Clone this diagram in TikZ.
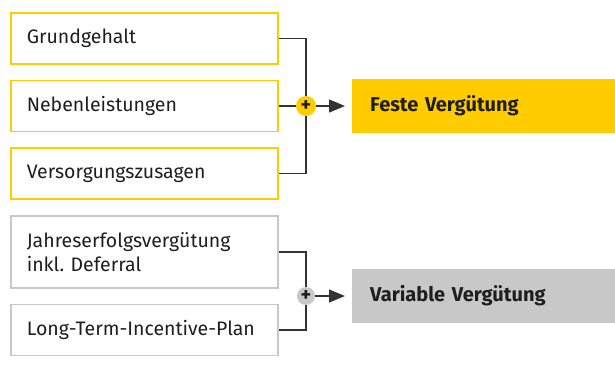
\documentclass[tikz,border=0pt]{standalone}
\usepackage{fontspec}
\setmainfont{Fira Sans}
\usetikzlibrary{arrows.meta}
\definecolor{gelb}{HTML}{FFCC00}
\definecolor{grau}{HTML}{C8C8C8}
\definecolor{txt}{HTML}{1E1E1E}
\definecolor{linie}{HTML}{333333}
\begin{document}
\begin{tikzpicture}[x=1pt,y=-1pt,
  item/.style={draw=#1,line width=1.6pt,minimum width=267pt,minimum height=51pt,
    anchor=west,text=txt,font=\fontsize{19.5}{24}\selectfont,align=left,
    text width=235pt,inner xsep=15.5pt},
  result/.style={fill=#1,minimum width=263pt,minimum height=54pt,anchor=west,
    text=txt,font=\fontsize{20}{24}\selectfont\bfseries,text width=227pt,inner xsep=17pt},
  plus/.style={circle,fill=#1,minimum size=20pt,inner sep=0pt,text=txt,
    font=\fontsize{20}{20}\selectfont\bfseries},
  conn/.style={draw=linie,line width=1.4pt},
  arr/.style={conn,shorten >=7pt,-{Triangle[length=16pt,width=13pt]}}]
\useasboundingbox (0,0) rectangle (615,373);
\node[item=gelb] (a) at (10,38.5) {Grundgehalt};
\node[item=gelb] (b) at (10,106) {Nebenleistungen};
\node[item=gelb] (c) at (10,173.5) {Versorgungszusagen};
\node[item=grau,minimum height=72pt] (d) at (10,252) {Jahreserfolgsvergütung\\inkl.\ Deferral};
\node[item=grau] (e) at (10,330) {Long-Term-Incentive-Plan};
\node[result=gelb] (f) at (352,106) {Feste Vergütung};
\node[result=grau] (g) at (352,296) {Variable Vergütung};
\coordinate (ja) at (306,38.5);
\coordinate (jc) at (306,173.5);
\coordinate (jd) at (306,252);
\coordinate (je) at (306,330);
\draw[conn] (a.east) -- (ja) -- (jc) -- (c.east);
\draw[conn] (b.east) -- (306,106);
\draw[conn] (d.east) -- (jd) -- (je) -- (e.east);
\node[plus=gelb] (p1) at (306,106) {+};
\node[plus=grau,minimum size=18pt] (p2) at (306,296) {+};
\draw[arr] (p1.east) -- (f.west);
\draw[arr] (p2.east) -- (g.west);
\end{tikzpicture}
\end{document}
